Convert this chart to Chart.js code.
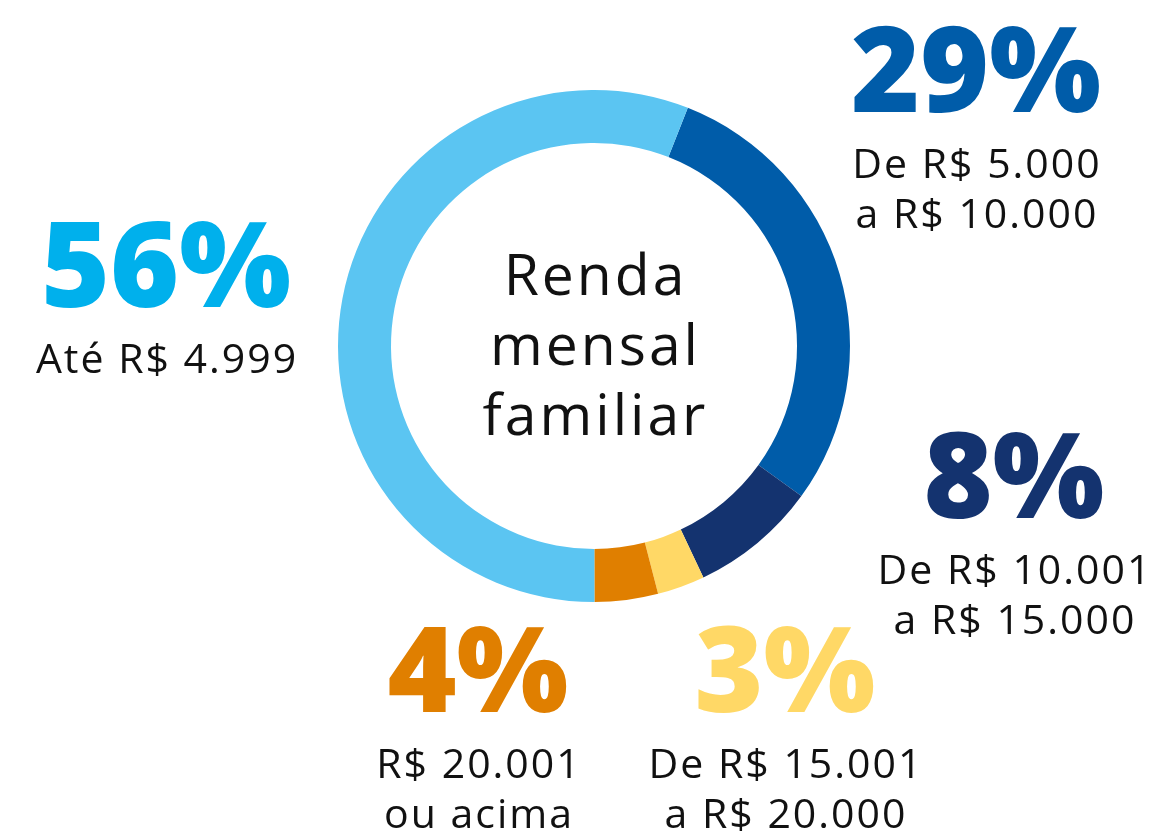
<!DOCTYPE html>
<html>
<head>
<meta charset="utf-8">
<script src="https://cdn.jsdelivr.net/npm/chart.js@4/dist/chart.umd.min.js"></script>
<style>
  html, body { margin: 0; padding: 0; background: #fff; }
  #wrap { width: 1154px; height: 833px; position: relative; }
</style>
</head>
<body>
<div id="wrap"><canvas id="chartRenda"></canvas></div>
<script>
'use strict';

// faixas de renda, na ordem do anel (sentido horario a partir do topo direito)
const categorias = ['De R$ 5.000\na R$ 10.000', 'De R$ 10.001\na R$ 15.000', 'De R$ 15.001\na R$ 20.000', 'R$ 20.001\nou acima', 'Até R$ 4.999'];
const percentuais = [29, 8, 3, 4, 56];
const coresAnel = ['#005ca9', '#14336f', '#ffd866', '#e07f00', '#5bc5f2'];
const coresTexto = ['#005ca9', '#14336f', '#ffd866', '#e07f00', '#00b0ec'];
const tituloCentro = ['Renda', 'mensal', 'familiar'];

// posicao dos rotulos (centro x, linha de base do numero)
const posRotulos = [
  { x: 976, y: 112 },
  { x: 1014, y: 518 },
  { x: 785, y: 712 },
  { x: 478, y: 712 },
  { x: 166, y: 307 }
];

const rotulosPlugin = {
  id: 'rotulos',
  afterDraw(chart) {
    const ctx = chart.ctx;
    const meta = chart.getDatasetMeta(0);
    const cx = meta.data[0].x, cy = meta.data[0].y;
    ctx.save();
    ctx.textAlign = 'center';
    ctx.textBaseline = 'alphabetic';

    // texto central
    ctx.fillStyle = '#111';
    ctx.font = '400 57px "Open Sans"';
    ctx.letterSpacing = '3px';
    tituloCentro.forEach(function(t, i) {
      ctx.fillText(t, cx + 1.5, cy - 51 + i * 70);
    });

    percentuais.forEach(function(v, i) {
      const p = posRotulos[i];
      ctx.fillStyle = coresTexto[i];
      ctx.letterSpacing = '0px';
      ctx.font = '800 118px "Open Sans"';
      ctx.fillText(v + '%', p.x, p.y);
      ctx.fillStyle = '#111';
      ctx.font = '400 41px "Open Sans"';
      ctx.letterSpacing = '2px';
      categorias[i].split('\n').forEach(function(l, j) {
        ctx.fillText(l, p.x + 1, p.y + 66 + j * 50);
      });
    });
    ctx.restore();
  }
};

const config = {
  type: 'doughnut',
  data: {
    labels: categorias,
    datasets: [{
      data: percentuais,
      backgroundColor: coresAnel,
      borderWidth: 0
    }]
  },
  options: {
    responsive: true,
    maintainAspectRatio: false,
    animation: false,
    rotation: 21.5,
    cutout: '79.3%',
    layout: { padding: { left: 338, right: 304, top: 90, bottom: 231 } },
    plugins: {
      legend: { display: false },
      tooltip: { enabled: false }
    }
  },
  plugins: [rotulosPlugin]
};

const chartRenda = new Chart(document.getElementById('chartRenda'), config);
</script>
</body>
</html>
